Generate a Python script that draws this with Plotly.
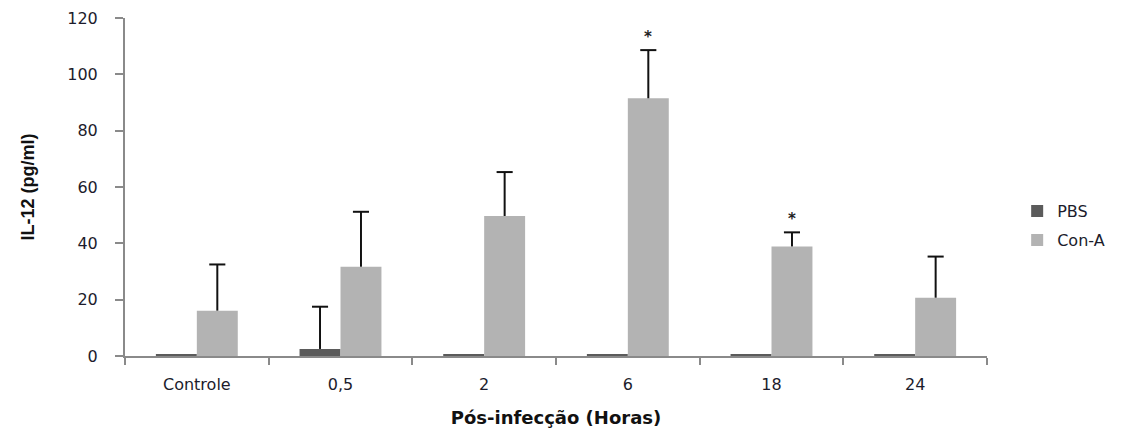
import plotly.graph_objects as go

# IL-12 levels after infection, PBS vs Con-A treatment
categories = ["Controle", "0,5", "2", "6", "18", "24"]
pbs_mean = [0.5, 2.5, 0.5, 0.5, 0.5, 0.5]
pbs_err = [None, 15.0, None, None, None, None]
cona_mean = [16.1, 31.7, 49.7, 91.5, 38.9, 20.7]
cona_err = [16.4, 19.5, 15.6, 17.1, 5.0, 14.6]
significant = ["6", "18"]
y_ticks = [0, 20, 40, 60, 80, 100, 120]

BARGAP = 0.43
BAR_W = (1 - BARGAP) / 2          # width of one bar, in category units
CAP_HALF = 0.056                  # half width of an error-bar cap, in category units
ERR_COLOR = "#111111"

label_font = dict(family="DejaVu Sans, Verdana, sans-serif", size=16, color="#1c1c2c")
no_minus = [None] * len(categories)

fig = go.Figure()
fig.add_trace(go.Bar(
    name="PBS", x=categories, y=pbs_mean, legend="legend",
    marker=dict(color="#5b5b5b", line=dict(width=0)),
    error_y=dict(type="data", array=pbs_err, symmetric=False, arrayminus=no_minus,
                 color=ERR_COLOR, thickness=2, width=0),
))
fig.add_trace(go.Bar(
    name="Con-A", x=categories, y=cona_mean, legend="legend2",
    marker=dict(color="#b3b3b3", line=dict(width=0)),
    error_y=dict(type="data", array=cona_err, symmetric=False, arrayminus=no_minus,
                 color=ERR_COLOR, thickness=2, width=0),
))

# caps on the upper end of each error bar (one-sided, as in the original figure)
for offset, means, errs in ((-BAR_W / 2, pbs_mean, pbs_err), (BAR_W / 2, cona_mean, cona_err)):
    for i, (m, e) in enumerate(zip(means, errs)):
        if e is None:
            continue
        fig.add_shape(
            type="line", xref="x", yref="y", x0=i, x1=i, y0=m + e, y1=m + e,
            x0shift=offset - CAP_HALF, x1shift=offset + CAP_HALF,
            line=dict(color=ERR_COLOR, width=2),
        )

# significance markers above the Con-A bars
for cat in significant:
    i = categories.index(cat)
    fig.add_annotation(
        x=i, y=cona_mean[i] + cona_err[i], text="<b>*</b>", showarrow=False,
        xshift=BAR_W / 2 * 143.7, yshift=13,
        font=dict(family="DejaVu Sans", size=15, color="#222"),
    )

legend_common = dict(x=1.035, xanchor="left", yanchor="middle", font=label_font,
                     bgcolor="rgba(0,0,0,0)", itemwidth=30)

fig.update_layout(
    width=1126, height=428,
    margin=dict(l=125, r=139, t=18, b=72),
    plot_bgcolor="white", paper_bgcolor="white",
    barmode="group", bargap=BARGAP, bargroupgap=0,
    showlegend=True,
    legend=dict(y=0.429, **legend_common),
    legend2=dict(y=0.343, **legend_common),
    xaxis=dict(
        type="category", range=[-0.5, len(categories) - 0.5], automargin=False,
        showline=True, linecolor="#8a8a8a", linewidth=2, tickangle=0,
        ticks="outside", tickson="boundaries", ticklen=7, tickcolor="#8a8a8a", tickwidth=2,
        tickfont=label_font, ticklabelstandoff=13, showgrid=False,
        title=dict(text="<b>Pós-infecção (Horas)</b>", standoff=20,
                   font=dict(family="DejaVu Sans, Verdana, sans-serif", size=18, color="#111")),
    ),
    yaxis=dict(
        range=[0, 120], tickvals=y_ticks, automargin=False,
        showline=True, linecolor="#8a8a8a", linewidth=2,
        ticks="outside", ticklen=8, tickcolor="#8a8a8a", tickwidth=2,
        tickfont=label_font, ticklabelstandoff=14, showgrid=False, zeroline=False,
        title=dict(text="<b>IL-12 (pg/ml)</b>", standoff=28,
                   font=dict(family="Liberation Sans Narrow, Arial Narrow, sans-serif", size=18, color="#111")),
    ),
)

fig.write_html("out.html")
